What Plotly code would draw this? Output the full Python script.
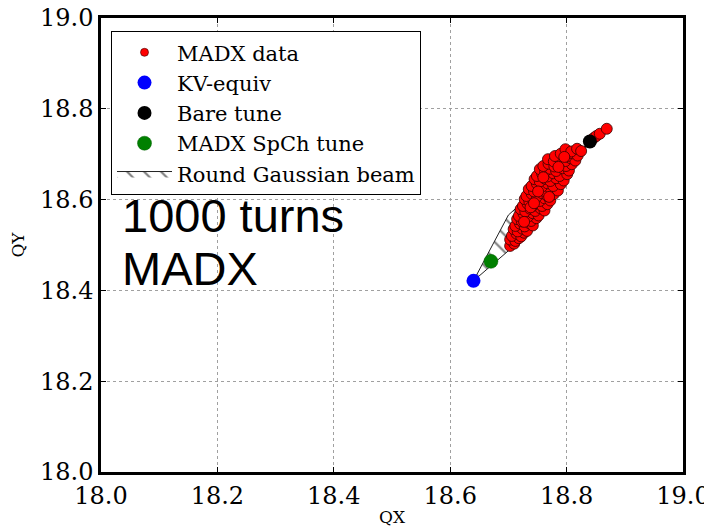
import plotly.graph_objects as go

# MADX tracked tunes (QX, QY) after 1000 turns
madx_qx = [
    18.703, 18.710,
    18.703, 18.712, 18.718,
    18.706, 18.714, 18.722, 18.727,
    18.709, 18.716, 18.724, 18.732,
    18.712, 18.720, 18.728, 18.736, 18.742,
    18.715, 18.723, 18.731, 18.739, 18.748,
    18.718, 18.726, 18.734, 18.742, 18.752,
    18.721, 18.729, 18.737, 18.746, 18.755, 18.762,
    18.725, 18.733, 18.741, 18.750, 18.758, 18.767,
    18.728, 18.736, 18.745, 18.754, 18.762, 18.772,
    18.731, 18.740, 18.749, 18.758, 18.767, 18.778,
    18.735, 18.744, 18.753, 18.762, 18.772, 18.785,
    18.740, 18.749, 18.758, 18.767, 18.777, 18.790,
    18.745, 18.754, 18.763, 18.772, 18.782, 18.795,
    18.749, 18.758, 18.767, 18.777, 18.788, 18.801,
    18.754, 18.763, 18.772, 18.782, 18.793, 18.804,
    18.760, 18.769, 18.779, 18.789, 18.799, 18.809,
    18.768, 18.778, 18.788, 18.798, 18.807, 18.815,
    18.780, 18.790, 18.800, 18.810, 18.819,
    18.798, 18.808, 18.818, 18.825,
    18.846, 18.851, 18.857, 18.869,
    18.751, 18.738, 18.760, 18.786, 18.796, 18.770, 18.727, 18.744,
]
madx_qy = [
    18.498, 18.503,
    18.512, 18.509, 18.515,
    18.520, 18.525, 18.519, 18.527,
    18.535, 18.530, 18.536, 18.531,
    18.542, 18.547, 18.541, 18.548, 18.543,
    18.557, 18.552, 18.558, 18.553, 18.559,
    18.564, 18.569, 18.563, 18.570, 18.565,
    18.579, 18.574, 18.580, 18.575, 18.581, 18.576,
    18.586, 18.591, 18.585, 18.592, 18.586, 18.590,
    18.601, 18.596, 18.602, 18.597, 18.603, 18.598,
    18.608, 18.613, 18.607, 18.614, 18.608, 18.612,
    18.623, 18.618, 18.624, 18.619, 18.625, 18.620,
    18.630, 18.635, 18.629, 18.636, 18.630, 18.634,
    18.645, 18.640, 18.646, 18.641, 18.647, 18.642,
    18.652, 18.657, 18.651, 18.658, 18.652, 18.656,
    18.667, 18.662, 18.668, 18.663, 18.669, 18.664,
    18.674, 18.679, 18.673, 18.680, 18.674, 18.678,
    18.689, 18.684, 18.690, 18.685, 18.691, 18.686,
    18.696, 18.701, 18.695, 18.702, 18.697,
    18.711, 18.706, 18.712, 18.707,
    18.735, 18.740, 18.745, 18.756,
    18.618, 18.583, 18.649, 18.672, 18.694, 18.606, 18.551, 18.592,
]

kv_qx, kv_qy = [18.640], [18.421]
bare_qx, bare_qy = [18.840], [18.728]
spch_qx, spch_qy = [18.670], [18.464]

# Round Gaussian beam footprint outline
gauss_qx = [18.640, 18.700, 18.840, 18.735, 18.640]
gauss_qy = [18.421, 18.566, 18.728, 18.526, 18.421]

tick_vals = [18.0, 18.2, 18.4, 18.6, 18.8, 19.0]
tick_text = ["18.0", "18.2", "18.4", "18.6", "18.8", "19.0"]

serif = "DejaVu Serif"

fig = go.Figure()

fig.add_trace(go.Scatter(
    x=gauss_qx, y=gauss_qy, mode="lines", fill="toself",
    fillcolor="rgba(255,255,255,0)",
    fillpattern=dict(shape="\\", fgcolor="black", bgcolor="white", size=12, solidity=0.18),
    line=dict(color="#222222", width=1),
    name="Round Gaussian beam", legendrank=5, legendgroup="e",
))
fig.add_trace(go.Scatter(
    x=madx_qx, y=madx_qy, mode="markers",
    marker=dict(color="#ff0000", size=11, line=dict(color="#330000", width=0.8)),
    name="MADX data", showlegend=False,
))
fig.add_trace(go.Scatter(
    x=[None], y=[None], mode="markers",
    marker=dict(color="#ff0000", size=8, line=dict(color="#330000", width=0.6)),
    name="MADX data", legendrank=1, legendgroup="a",
))
fig.add_trace(go.Scatter(
    x=kv_qx, y=kv_qy, mode="markers",
    marker=dict(color="#0000ff", size=14, line=dict(color="#0000ff", width=0)),
    name="KV-equiv", legendrank=2, legendgroup="b",
))
fig.add_trace(go.Scatter(
    x=bare_qx, y=bare_qy, mode="markers",
    marker=dict(color="black", size=14),
    name="Bare tune", legendrank=3, legendgroup="c",
))
fig.add_trace(go.Scatter(
    x=spch_qx, y=spch_qy, mode="markers",
    marker=dict(color="#008000", size=14, line=dict(color="#006000", width=0.5)),
    name="MADX SpCh tune", legendrank=4, legendgroup="d",
))

axis_common = dict(
    range=[18.0, 19.0], tickvals=tick_vals, ticktext=tick_text,
    showline=True, linecolor="black", linewidth=2.5, mirror="ticks",
    ticks="inside", ticklen=5, tickcolor="black", tickwidth=1,
    showgrid=True, gridcolor="#a0a0a0", griddash="dot", gridwidth=1,
    zeroline=False, automargin=False, ticklabeloverflow="allow",
    tickfont=dict(family=serif, size=24, color="black"),
)

# page body has an 8px margin, so the figure is 8px smaller and margins shifted
fig.update_layout(
    width=704, height=519,
    margin=dict(l=93, r=29, t=10, b=55),
    paper_bgcolor="white", plot_bgcolor="white",
    font=dict(family=serif, color="black"),
    xaxis=dict(**axis_common, title=dict(text="QX", font=dict(family=serif, size=17), standoff=10)),
    yaxis=dict(**axis_common, title=dict(text="QY", font=dict(family=serif, size=17), standoff=14)),
    showlegend=True,
    legend=dict(
        x=0.0172, y=0.971, xanchor="left", yanchor="top",
        bgcolor="white", bordercolor="black", borderwidth=1,
        font=dict(family=serif, size=21, color="black"),
        traceorder="grouped", tracegroupgap=0, itemwidth=55,
    ),
    annotations=[
        dict(text="1000 turns", xref="paper", yref="paper",
             x=0.0335, y=0.6273, xanchor="left", yanchor="top", align="left",
             showarrow=False, font=dict(family="Liberation Sans", size=47, color="black")),
        dict(text="MADX", xref="paper", yref="paper",
             x=0.0335, y=0.5104, xanchor="left", yanchor="top", align="left",
             showarrow=False, font=dict(family="Liberation Sans", size=47, color="black")),
    ],
)

fig.write_html("out.html")
